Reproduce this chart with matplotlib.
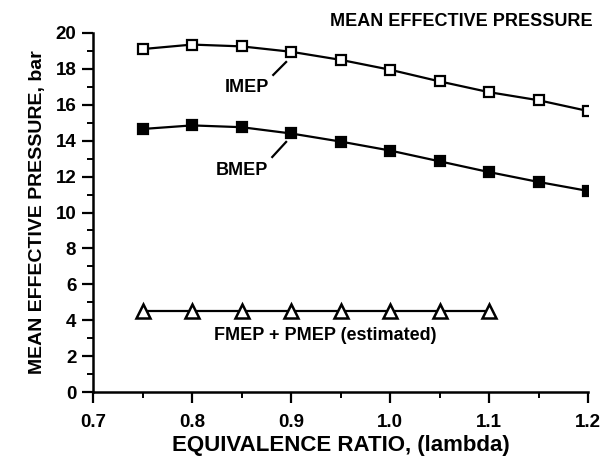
import matplotlib
matplotlib.use("Agg")
import matplotlib.pyplot as plt
from matplotlib.ticker import MultipleLocator

plt.rcParams['font.family'] = ['Liberation Sans', 'DejaVu Sans']
plt.rcParams['font.weight'] = 'bold'

# -- Data --
lam = [0.75, 0.80, 0.85, 0.90, 0.95, 1.00, 1.05, 1.10, 1.15, 1.20]
imep = [19.1, 19.35, 19.25, 18.95, 18.5, 17.95, 17.3, 16.7, 16.25, 15.65]
bmep = [14.65, 14.85, 14.75, 14.4, 13.95, 13.45, 12.85, 12.25, 11.7, 11.2]
lam_fp = [0.75, 0.80, 0.85, 0.90, 0.95, 1.00, 1.05, 1.10]
fmep_pmep = [4.5, 4.5, 4.5, 4.5, 4.5, 4.5, 4.5, 4.5]

x_ticks = [0.7, 0.8, 0.9, 1.0, 1.1, 1.2]
x_ticklabels = ['0.7', '0.8', '0.9', '1.0', '1.1', '1.2']
y_ticks = [0, 2, 4, 6, 8, 10, 12, 14, 16, 18, 20]

fig = plt.figure(figsize=(6.06, 4.57), dpi=100)
ax = fig.add_axes([0.1535, 0.142, 0.817, 0.786])

ax.plot(lam, imep, color='black', lw=1.6, marker='s', ms=7,
        mfc='white', mec='black', mew=1.6, zorder=3)
ax.plot(lam, bmep, color='black', lw=1.6, marker='s', ms=7,
        mfc='black', mec='black', mew=1.6, zorder=3)
ax.plot(lam_fp, fmep_pmep, color='black', lw=1.6, marker='^', ms=10,
        mfc='white', mec='black', mew=1.8, zorder=3)

# labels with leader lines
ax.plot([0.895, 0.882], [18.38, 17.66], color='black', lw=1.6)
ax.plot([0.895, 0.881], [13.93, 13.09], color='black', lw=1.6)
ax.text(0.855, 16.95, 'IMEP', fontsize=13, ha='center', va='center')
ax.text(0.850, 12.35, 'BMEP', fontsize=13, ha='center', va='center')
ax.text(0.935, 3.15, 'FMEP + PMEP (estimated)', fontsize=13,
        ha='center', va='center')
fig.text(0.9785, 0.952, 'MEAN EFFECTIVE PRESSURE', fontsize=13,
         ha='right', va='center')

ax.set_xlim(0.7, 1.2)
ax.set_ylim(0, 20)
ax.set_xticks(x_ticks)
ax.set_xticklabels(x_ticklabels)
ax.set_yticks(y_ticks)
ax.xaxis.set_minor_locator(MultipleLocator(0.05))
ax.yaxis.set_minor_locator(MultipleLocator(1))
ax.tick_params(which='major', direction='out', length=8, width=1.6,
               labelsize=13.5, pad=4)
ax.tick_params(axis='x', which='major', pad=8)
ax.tick_params(which='minor', direction='out', length=4, width=1.4)

for s in ['top', 'right']:
    ax.spines[s].set_visible(False)
for s in ['left', 'bottom']:
    ax.spines[s].set_linewidth(1.8)

ax.set_xlabel('EQUIVALENCE RATIO, (lambda)', fontsize=16,
              fontweight='bold', labelpad=3)
ax.set_ylabel('MEAN EFFECTIVE PRESSURE, bar', fontsize=14,
              fontweight='bold', labelpad=7)

fig.savefig('out.png', dpi=100)
